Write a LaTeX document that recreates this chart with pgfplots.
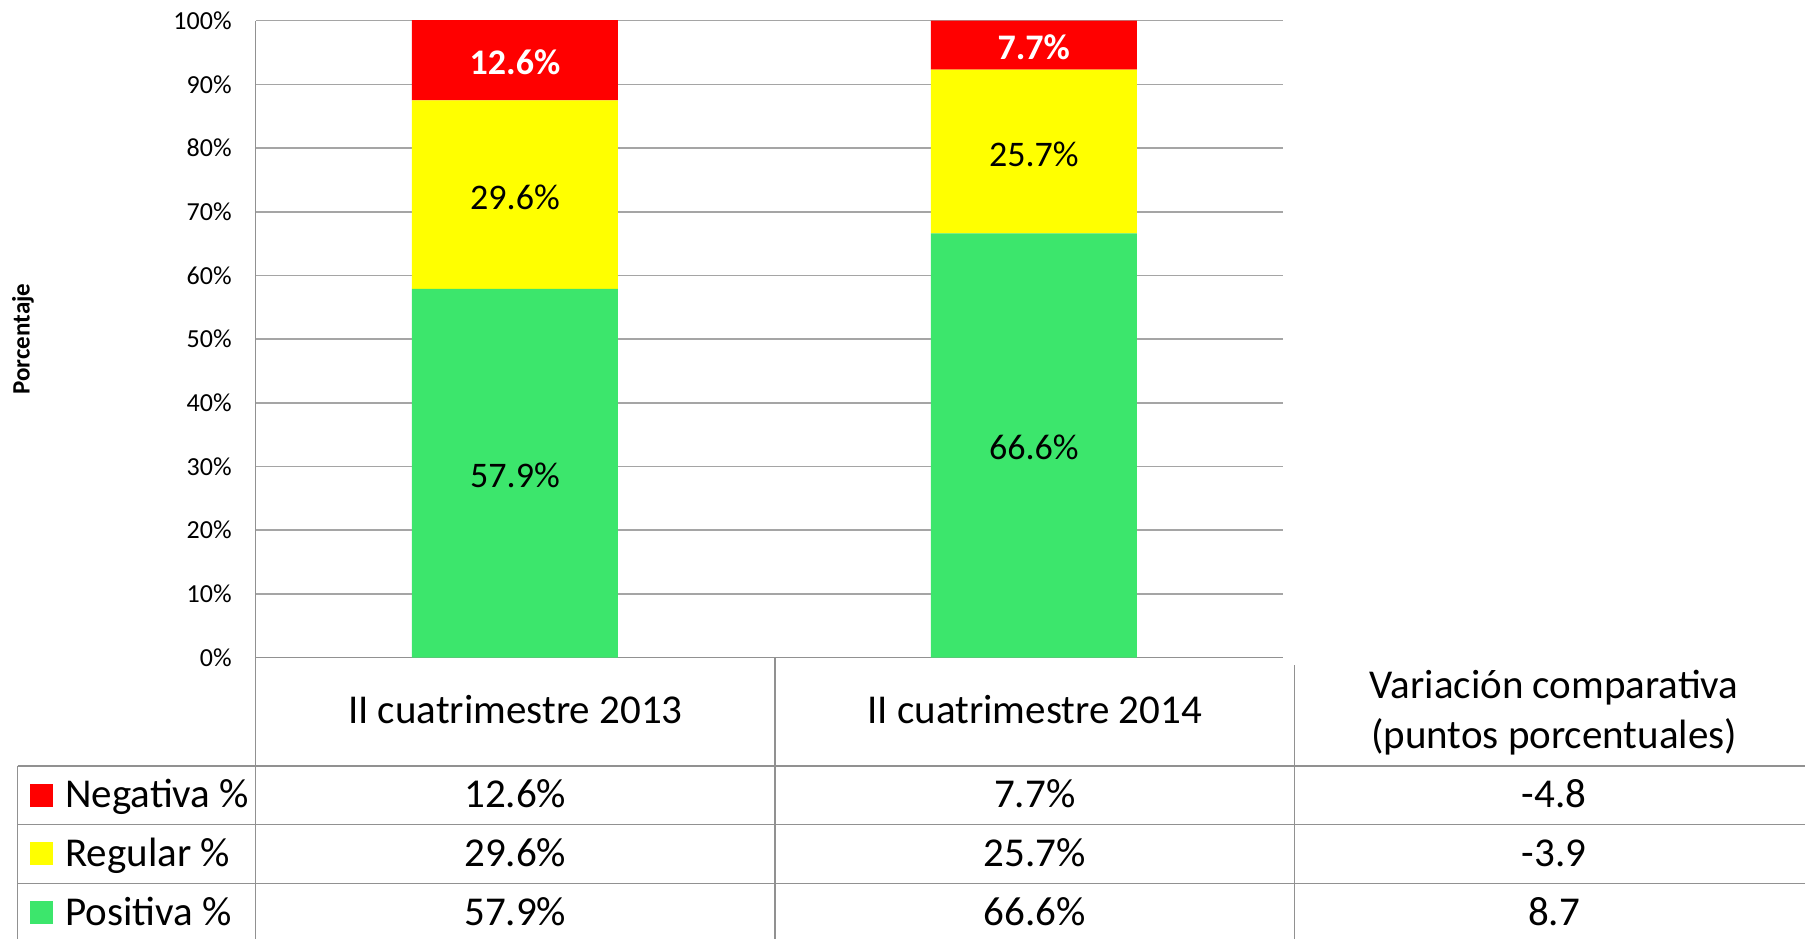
\documentclass[border=0pt]{standalone}
\usepackage{fontspec}
\setmainfont{Carlito}
\usepackage{pgfplots}
\pgfplotsset{compat=1.18}
\usepackage{pgfplotstable}
\definecolor{cneg}{RGB}{255,0,0}
\definecolor{creg}{RGB}{255,255,0}
\definecolor{cpos}{RGB}{60,230,108}
\definecolor{cgrid}{RGB}{165,165,165}
\definecolor{cline}{RGB}{145,145,145}

\pgfplotstableread{
x pos reg neg
0 57.9 29.6 12.6
1 66.6 25.7 7.7
}\data

\newcommand{\tabfont}{\fontsize{20.5}{25}\selectfont}

\begin{document}
\begin{tikzpicture}
\begin{axis}[
  at={(0,0)}, anchor=south west,
  scale only axis, width=513.6pt, height=318.4pt,
  ybar stacked, bar width=103pt,
  xmin=-0.5, xmax=1.48, ymin=0, ymax=100,
  clip=false,
  xtick=\empty,
  ytick={0,10,...,100},
  /pgf/number format/assume math mode=true,
  yticklabel={\pgfmathprintnumber{\tick}\%},
  yticklabel style={font=\fontsize{13}{15}\selectfont, inner sep=0pt, xshift=-11.8pt},
  major tick length=0pt,
  axis x line*=bottom, axis y line*=left,
  axis line style={draw=cline, line width=0.8pt, -},
  ymajorgrids, grid style={draw=cgrid, line width=0.8pt},
  ylabel={Porcentaje},
  ylabel style={at={(axis description cs:-0.2264,0.5)}, anchor=center, font=\fontsize{12.5}{14}\selectfont\bfseries},
  visualization depends on=rawy \as \rawy,
  nodes near coords={\pgfmathprintnumber[fixed,precision=1,fixed zerofill]{\rawy}\%},
  every node near coord/.append style={anchor=center, yshift=-1.2pt, font=\fontsize{18}{20}\selectfont, text=black},
]
\addplot[fill=cpos, draw=none] table[x=x,y=pos]{\data};
\addplot[fill=creg, draw=none] table[x=x,y=reg]{\data};
\addplot[fill=cneg, draw=none, every node near coord/.append style={text=white, font=\fontsize{18}{20}\selectfont\bfseries}] table[x=x,y=neg]{\data};
\end{axis}

% data table below the chart
\begin{scope}[draw=cline, line width=0.8pt]
  \draw (-119pt,-54.1pt) -- (780pt,-54.1pt);
  \draw (-119pt,-83.5pt) -- (780pt,-83.5pt);
  \draw (-119pt,-112.9pt) -- (780pt,-112.9pt);
  \draw (0pt,0pt) -- (0pt,-145pt);
  \draw (259.7pt,0pt) -- (259.7pt,-145pt);
  \draw (519.4pt,-3.75pt) -- (519.4pt,-145pt);
  \draw (-119pt,-54.1pt) -- (-119pt,-145pt);
\end{scope}

\node[font=\tabfont, anchor=base, inner sep=0pt] at (129.85pt,-32.9pt) {II cuatrimestre 2013};
\node[font=\tabfont, anchor=base, inner sep=0pt] at (389.55pt,-32.9pt) {II cuatrimestre 2014};
\node[font=\tabfont, anchor=base, inner sep=0pt] at (649.25pt,-20.25pt) {Variación comparativa};
\node[font=\tabfont, anchor=base, inner sep=0pt] at (649.25pt,-45.25pt) {(puntos porcentuales)};

% rows
\fill[cneg] (-112.8pt,-74.55pt) rectangle ++(11.5pt,11.5pt);
\fill[creg] (-112.8pt,-103.95pt) rectangle ++(11.5pt,11.5pt);
\fill[cpos] (-112.8pt,-133.35pt) rectangle ++(11.5pt,11.5pt);

\node[font=\tabfont, anchor=base west, inner sep=0pt] at (-95.3pt,-75pt) {Negativa \%};
\node[font=\tabfont, anchor=base west, inner sep=0pt] at (-95.3pt,-104.4pt) {Regular \%};
\node[font=\tabfont, anchor=base west, inner sep=0pt] at (-95.3pt,-133.8pt) {Positiva \%};

\node[font=\tabfont, anchor=base, inner sep=0pt] at (129.85pt,-75pt) {12.6\%};
\node[font=\tabfont, anchor=base, inner sep=0pt] at (389.55pt,-75pt) {7.7\%};
\node[font=\tabfont, anchor=base, inner sep=0pt] at (649.25pt,-75pt) {-4.8};
\node[font=\tabfont, anchor=base, inner sep=0pt] at (129.85pt,-104.4pt) {29.6\%};
\node[font=\tabfont, anchor=base, inner sep=0pt] at (389.55pt,-104.4pt) {25.7\%};
\node[font=\tabfont, anchor=base, inner sep=0pt] at (649.25pt,-104.4pt) {-3.9};
\node[font=\tabfont, anchor=base, inner sep=0pt] at (129.85pt,-133.8pt) {57.9\%};
\node[font=\tabfont, anchor=base, inner sep=0pt] at (389.55pt,-133.8pt) {66.6\%};
\node[font=\tabfont, anchor=base, inner sep=0pt] at (649.25pt,-133.8pt) {8.7};

\pgfresetboundingbox
\path (-127.8pt,-140.25pt) rectangle (774.7pt,328.75pt);
\end{tikzpicture}
\end{document}
